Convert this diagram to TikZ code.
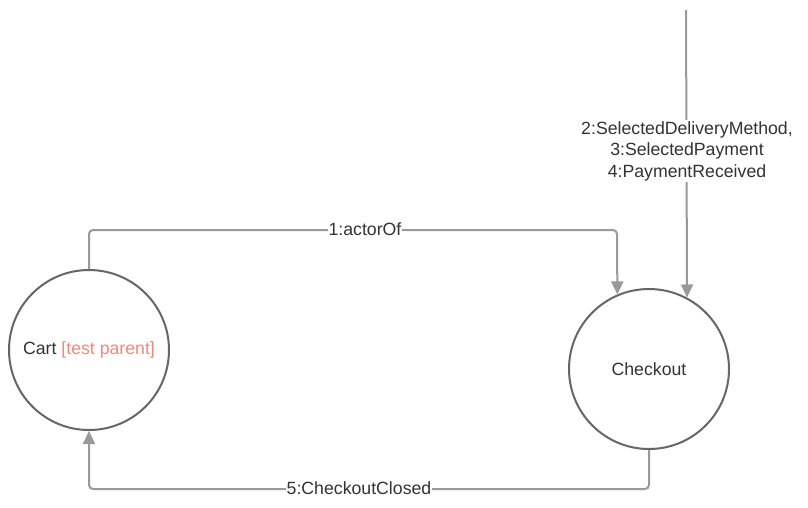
\documentclass[tikz,border=0pt]{standalone}
\usepackage{fontspec}
\setmainfont{Liberation Sans}
\usetikzlibrary{arrows.meta}
\definecolor{linegray}{HTML}{999999}
\definecolor{circgray}{HTML}{666666}
\definecolor{txt}{HTML}{333333}
\definecolor{salmon}{HTML}{F2877A}
\tikzset{
  state/.style={circle, draw=circgray, line width=2pt, minimum size=160pt, inner sep=0pt, fill=white, text=txt, font=\fontsize{17.7}{21.5}\selectfont},
  conn/.style={draw=linegray, line width=2pt, rounded corners=4pt, -{Triangle[length=13pt,width=12pt]}},
  lbl/.style={fill=white, text=txt, inner sep=1pt, align=center, font=\fontsize{17.7}{21.5}\selectfont}
}
\begin{document}
\begin{tikzpicture}[x=1pt,y=-1pt]
\useasboundingbox (0,0) rectangle (808,507);
\node[state] (cart) at (89,350) {Cart \textcolor{salmon}{[test parent]}};
\node[state] (checkout) at (649,369) {Checkout};
\coordinate (c1) at (617,230);
\coordinate (top) at (686,10);
\coordinate (c5) at (649,489);
\draw[conn] (cart.north) |- (c1) -- (checkout.113.6);
\draw[conn] (top) -- (checkout.62.4);
\draw[conn] (checkout.south) -- (c5) -| (cart.south);
\node[lbl] (l1) at (365,229) {1:actorOf};
\node[lbl] (l2) at (687,151) {2:SelectedDeliveryMethod,\\3:SelectedPayment\\4:PaymentReceived};
\node[lbl] (l5) at (359,488) {5:CheckoutClosed};
\end{tikzpicture}
\end{document}
